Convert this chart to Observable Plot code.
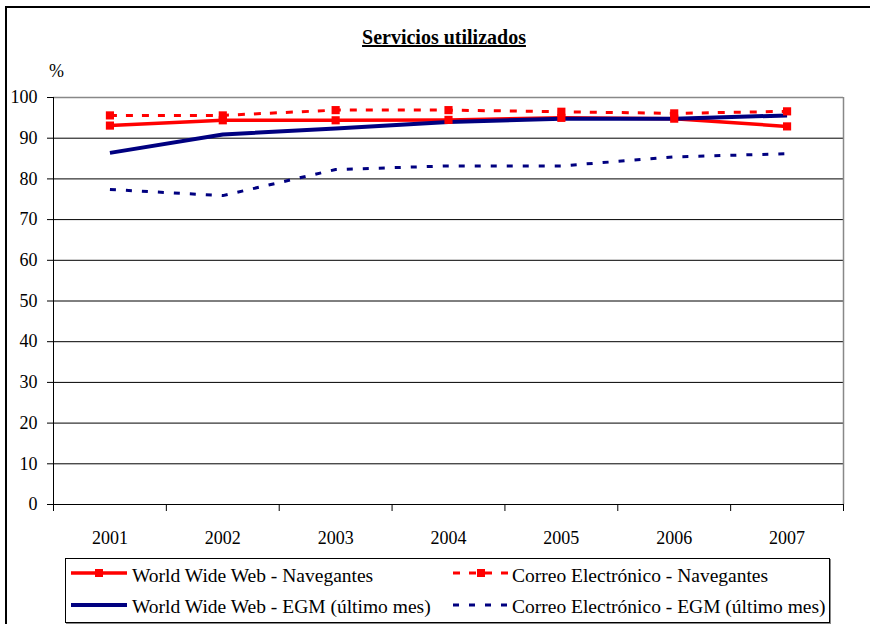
<!DOCTYPE html>
<html><head><meta charset="utf-8">
<script src="https://cdn.jsdelivr.net/npm/d3@7"></script>
<script src="https://cdn.jsdelivr.net/npm/@observablehq/plot@0.6"></script>
<style>
body{margin:0;background:#fff;}
#wrap{position:relative;width:870px;height:624px;overflow:hidden;font-family:'Liberation Serif';color:#000;}
#frame{position:absolute;left:5px;top:6px;width:900px;height:700px;border-left:2px solid #000;border-top:2px solid #000;}
#title{position:absolute;left:0;width:888px;top:25px;text-align:center;font-family:'Liberation Serif';font-weight:bold;font-size:20px;line-height:24px;text-decoration:underline;}
#pct{position:absolute;left:49px;top:61px;font-family:'Liberation Serif';font-size:18px;line-height:20px;}
#chart{position:absolute;left:0;top:0;}
#legend{position:absolute;left:65px;top:558px;width:763px;height:63px;border:1px solid #000;box-shadow:1px 1px 0 #888;background:#fff;}
.sw{position:absolute;}
.lt{position:absolute;font-family:'Liberation Serif';font-size:19.5px;line-height:20px;white-space:nowrap;}
</style>
</head><body>
<div id="wrap">
  <div id="frame"></div>
  <div id="title">Servicios utilizados</div>
  <div id="pct">%</div>
  <div id="chart"></div>
  <div id="legend"></div>
</div>
<script>
const years = [2001, 2002, 2003, 2004, 2005, 2006, 2007];
const wwwNavegantes = [93.1, 94.4, 94.4, 94.5, 95.0, 94.8, 92.9];
const correoNavegantes = [95.6, 95.6, 96.9, 96.9, 96.5, 96.1, 96.6];
const wwwEGM = [86.4, 90.9, 92.4, 94.0, 94.8, 94.8, 95.6];
const correoEGM = [77.4, 75.9, 82.3, 83.2, 83.2, 85.4, 86.2];
const yTicks = [0, 10, 20, 30, 40, 50, 60, 70, 80, 90, 100];
const seriesNames = [
  "World Wide Web - Navegantes",
  "Correo Electrónico - Navegantes",
  "World Wide Web - EGM (último mes)",
  "Correo Electrónico - EGM (último mes)"
];

const RED = "#FF0000", NAVY = "#000080";
const styles = [
  {stroke: RED, strokeWidth: 3.5, dash: null, marker: true},
  {stroke: RED, strokeWidth: 3, dash: "7,9", marker: true},
  {stroke: NAVY, strokeWidth: 4, dash: null, marker: false},
  {stroke: NAVY, strokeWidth: 3, dash: "6,10", marker: false}
];
const values = [wwwNavegantes, correoNavegantes, wwwEGM, correoEGM];
const tables = values.map(v => years.map((y, i) => ({year: y, value: v[i]})));

const lo = d3.min(years) - 0.5, hi = d3.max(years) + 0.5;
const bounds = d3.range(lo, hi + 0.01, 1);
const grid = yTicks.filter(t => t > 0 && t < 100);

const lineMarks = tables.map((t, i) => Plot.line(t, {
  x: "year", y: "value", stroke: styles[i].stroke, strokeWidth: styles[i].strokeWidth,
  strokeDasharray: styles[i].dash || undefined, strokeLinecap: "butt", strokeLinejoin: "round"
}));
const chart = Plot.plot({
  width: 870, height: 560,
  marginLeft: 53, marginRight: 27, marginTop: 97, marginBottom: 56,
  style: {fontFamily: "'Liberation Serif'", fontSize: "18px", color: "#000", background: "transparent"},
  x: {domain: [lo, hi], label: null},
  y: {domain: [0, 100], label: null},
  marks: [
    Plot.ruleY(grid, {stroke: "#000", strokeWidth: 1}),
    Plot.ruleY([100], {stroke: "#888", strokeWidth: 1.5}),
    Plot.ruleX([hi], {y1: 0, y2: 100, stroke: "#888", strokeWidth: 1.5}),
    Plot.ruleX([lo], {y1: 0, y2: 100, stroke: "#000", strokeWidth: 1}),
    Plot.ruleY([0], {stroke: "#000", strokeWidth: 1.2}),
    Plot.axisX({ticks: bounds, tickSize: 7, tickFormat: () => "", stroke: "#000", label: null}),
    Plot.axisX({ticks: years, tickSize: 0, tickPadding: 27, tickFormat: d => String(d), fontSize: 18, label: null}),
    Plot.axisY({ticks: yTicks, tickSize: 6, tickPadding: 10, label: null, fontSize: 18, stroke: "#000"}),
    ...lineMarks,
    ...tables.map((t, i) => styles[i].marker ? Plot.dot(t, {x: "year", y: "value", symbol: "square", r: 4.6, fill: RED, stroke: null}) : null).filter(Boolean)
  ]
});
document.getElementById("chart").appendChild(chart);

// Legend
const legend = document.getElementById("legend");
const pos = [
  {sx: 4, tx: 66, top: 0},
  {sx: 386, tx: 446, top: 0},
  {sx: 4, tx: 66, top: 1},
  {sx: 386, tx: 446, top: 1}
];
seriesNames.forEach((name, i) => {
  const p = pos[i], s = styles[i];
  const rowLineY = p.top ? 46 : 14;
  const svg = d3.create("svg").attr("class", "sw").attr("width", 58).attr("height", 12)
    .style("left", p.sx + "px").style("top", (rowLineY - 6) + "px");
  svg.append("line").attr("x1", 1).attr("x2", 57).attr("y1", 6).attr("y2", 6)
    .attr("stroke", s.stroke).attr("stroke-width", s.strokeWidth)
    .attr("stroke-dasharray", s.dash ? s.dash : null);
  if (s.marker) svg.append("rect").attr("x", 25).attr("y", 2).attr("width", 8).attr("height", 8).attr("fill", RED);
  legend.appendChild(svg.node());
  const t = document.createElement("div");
  t.className = "lt";
  t.textContent = name;
  t.style.left = p.tx + "px";
  t.style.top = (p.top ? 38 : 7) + "px";
  legend.appendChild(t);
});
</script>
</body></html>
